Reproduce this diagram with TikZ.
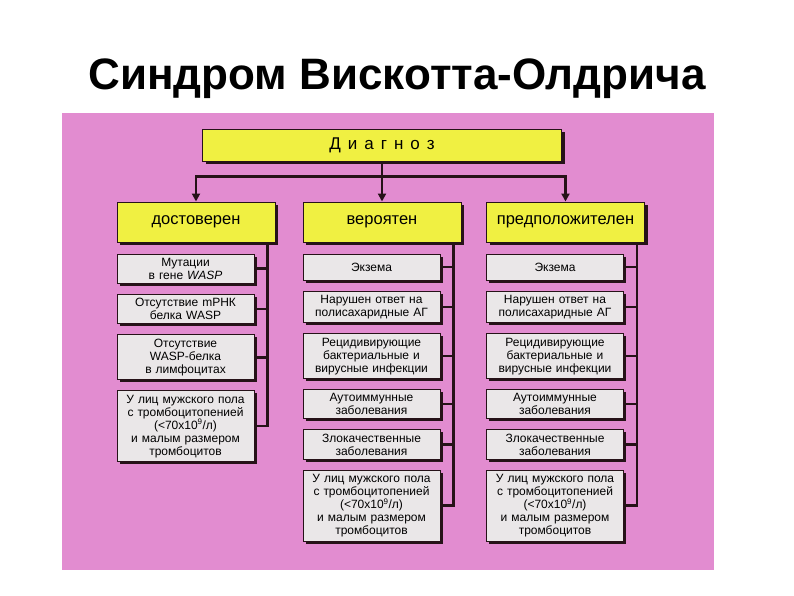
\documentclass[tikz,border=0pt]{standalone}
\usepackage{fontspec}
\setmainfont{Liberation Sans}
\usetikzlibrary{arrows.meta, positioning, shadows, calc}
\definecolor{pinkbg}{RGB}{226,140,208}
\definecolor{boxyel}{RGB}{240,240,66}
\definecolor{boxgray}{RGB}{234,231,232}
\definecolor{inkdark}{RGB}{38,18,24}
\tikzset{
  head/.style={rectangle,draw=inkdark,line width=1pt,fill=boxyel,
    drop shadow={shadow xshift=3pt,shadow yshift=-3pt,fill=inkdark,opacity=1},
    minimum width=359pt,minimum height=32pt,font=\fontsize{17}{20}\selectfont},
  kind/.style={rectangle,draw=inkdark,line width=1pt,fill=boxyel,
    drop shadow={shadow xshift=3pt,shadow yshift=-3pt,fill=inkdark,opacity=1},
    minimum width=158pt,minimum height=40pt,font=\fontsize{16.5}{19}\selectfont},
  item/.style={rectangle,draw=inkdark,line width=1pt,fill=boxgray,
    drop shadow={shadow xshift=2.5pt,shadow yshift=-2.5pt,fill=inkdark,opacity=1},
    text width=129pt,inner xsep=4pt,inner ysep=4pt,minimum height=26pt,
    align=center,font=\fontsize{12}{13}\selectfont},
  ar/.style={-{Triangle[length=8pt,width=8pt]},line width=2.6pt,draw=inkdark},
  ln/.style={line width=2.6pt,draw=inkdark}
}
\begin{document}
\begin{tikzpicture}[x=1pt,y=1pt,node distance=10pt]
\useasboundingbox (0,0) rectangle (794,-595);
\fill[white] (0,0) rectangle (794,-595);
\fill[pinkbg] (62,-113) rectangle (714,-570);
\node[anchor=base,font=\fontsize{44}{50}\selectfont\bfseries] (title) at (397,-89) {Синдром Вискотта-Олдрича};

% top levels
\node[head] (diag) at (382,-145) {{\spaceskip=7pt Д и а г н о з}};
\node[kind] (dost) at (196,-222) {достоверен};
\node[kind] (ver) at (382,-222) {вероятен};
\node[kind] (pred) at (565.5,-222) {предположителен};
\coordinate (split) at ($(diag.south)+(0,-15)$);
\draw[ar] (diag) -- (ver);
\draw[ar] (split) -| (dost);
\draw[ar] (split) -| (pred);

% first column
\node[item,below=11pt of dost.south west,anchor=north west] (d1) {Мутации\\в гене \textit{WASP}};
\node[item,below=of d1] (d2) {Отсутствие mРНК\\белка WASP};
\node[item,below=of d2] (d3) {Отсутствие\\WASP-белка\\в лимфоцитах};
\node[item,below=of d3] (d4) {У лиц мужского пола\\с тромбоцитопенией\\(<70x10\textsuperscript{9}/л)\\и малым размером\\тромбоцитов};

% second column
\node[item,below=11pt of ver.south west,anchor=north west] (v1) {Экзема};
\node[item,below=of v1] (v2) {Нарушен ответ на\\полисахаридные АГ};
\node[item,below=of v2] (v3) {Рецидивирующие\\бактериальные и\\вирусные инфекции};
\node[item,below=of v3] (v4) {Аутоиммунные\\заболевания};
\node[item,below=of v4] (v5) {Злокачественные\\заболевания};
\node[item,below=of v5] (v6) {У лиц мужского пола\\с тромбоцитопенией\\(<70x10\textsuperscript{9}/л)\\и малым размером\\тромбоцитов};

% third column
\node[item,below=11pt of pred.south west,anchor=north west] (p1) {Экзема};
\node[item,below=of p1] (p2) {Нарушен ответ на\\полисахаридные АГ};
\node[item,below=of p2] (p3) {Рецидивирующие\\бактериальные и\\вирусные инфекции};
\node[item,below=of p3] (p4) {Аутоиммунные\\заболевания};
\node[item,below=of p4] (p5) {Злокачественные\\заболевания};
\node[item,below=of p5] (p6) {У лиц мужского пола\\с тромбоцитопенией\\(<70x10\textsuperscript{9}/л)\\и малым размером\\тромбоцитов};

% side lines
\coordinate (dl) at ($(dost.south east)+(-8,0)$);
\coordinate (vl) at ($(ver.south east)+(-8,0)$);
\coordinate (pl) at ($(pred.south east)+(-8,0)$);
\draw[ln] (dl) |- (d4.east);
\foreach \n in {1,2,3} \draw[ln] (d\n.east) -- (d\n.east -| dl);
\draw[ln] (vl) |- (v6.east);
\foreach \n in {1,...,5} \draw[ln] (v\n.east) -- (v\n.east -| vl);
\draw[ln] (pl) |- (p6.east);
\foreach \n in {1,...,5} \draw[ln] (p\n.east) -- (p\n.east -| pl);
\end{tikzpicture}
\end{document}
